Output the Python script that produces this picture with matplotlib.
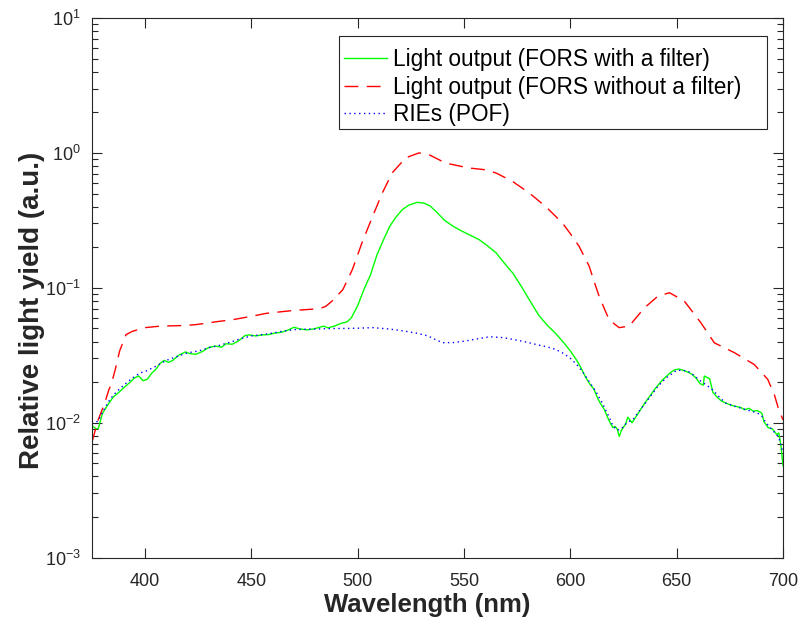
import matplotlib
matplotlib.use("Agg")
import matplotlib.pyplot as plt
from matplotlib.patches import Rectangle
from matplotlib.ticker import LogLocator, NullFormatter

plt.rcParams['font.family'] = ['Liberation Sans', 'DejaVu Sans']
plt.rcParams['mathtext.default'] = 'regular'
plt.rcParams['lines.scale_dashes'] = False

# Light output, FORS with a filter
green_wl = [375, 377, 378, 380, 383, 385, 388, 390, 393, 395, 397, 399, 401, 403, 405,
            407, 409, 411, 413, 416, 419, 421, 424, 427, 430, 433, 436, 438, 441, 444,
            447, 449, 452, 455, 458, 461, 464, 467, 470, 473, 476, 479, 482, 484, 486,
            489, 492, 495, 497, 500, 503, 506, 509, 512, 515, 518, 521, 524, 528, 531,
            534, 537, 541, 545, 549, 553, 557, 561, 565, 569, 573, 577, 581, 585, 589,
            593, 597, 600, 603, 605, 607, 609, 611, 613, 614, 616, 618, 619, 620, 621,
            622, 623, 624, 626, 627, 628, 629, 631, 633, 635, 637, 640, 643, 645, 647,
            649, 651, 653, 655, 657, 659, 661, 662.5, 663, 665.5, 667, 669, 671, 674, 677,
            680, 682, 684, 686, 688, 690, 691, 693, 695, 697, 698, 699, 700]
green_val = [0.0095, 0.0090, 0.0091, 0.0118, 0.0140, 0.0155, 0.0170, 0.0182, 0.0200, 0.0215,
             0.0222, 0.0205, 0.0210, 0.0232, 0.0248, 0.0275, 0.0290, 0.0280, 0.0290, 0.0318,
             0.0335, 0.0325, 0.0322, 0.0338, 0.0362, 0.0370, 0.0363, 0.0385, 0.0382, 0.0405,
             0.0443, 0.0448, 0.0440, 0.0448, 0.0450, 0.0462, 0.0468, 0.0485, 0.0510, 0.0495,
             0.0488, 0.0495, 0.0510, 0.0520, 0.0505, 0.0520, 0.0545, 0.0560, 0.0600, 0.0740,
             0.098, 0.125, 0.175, 0.225, 0.285, 0.335, 0.380, 0.410, 0.430, 0.425,
             0.405, 0.365, 0.315, 0.285, 0.263, 0.245, 0.228, 0.205, 0.182, 0.152,
             0.128, 0.102, 0.080, 0.063, 0.053, 0.046, 0.039, 0.034, 0.029, 0.0255,
             0.0220, 0.0195, 0.0178, 0.0150, 0.0140, 0.0125, 0.0105, 0.0098, 0.0092, 0.0094,
             0.0090, 0.0079, 0.0088, 0.0098, 0.0110, 0.0105, 0.0100, 0.0112, 0.0125, 0.0140,
             0.0155, 0.0180, 0.0205, 0.0220, 0.0235, 0.0247, 0.0250, 0.0245, 0.0238, 0.0230,
             0.0215, 0.0195, 0.0190, 0.0222, 0.0212, 0.0168, 0.0155, 0.0145, 0.0138, 0.0133,
             0.0130, 0.0125, 0.0128, 0.0122, 0.0123, 0.0118, 0.0102, 0.0092, 0.0090, 0.0082,
             0.0084, 0.0068, 0.0048]

# Light output, FORS without a filter
red_wl = [375, 378, 381, 383, 384, 386, 388, 391, 394, 400, 407, 419, 424, 435, 441,
          450, 457, 466, 471, 482, 485, 488, 493, 497.5, 502, 507, 511.6, 516.3, 522.6,
          528.8, 533.5, 541.4, 552, 560, 565, 572.7, 580.5, 588.4, 596.2, 600.9, 604.1,
          608.8, 611.9, 613.5, 618.2, 622.9, 627.6, 634.8, 641.1, 646.6, 653.6, 661.4,
          667.7, 677.1, 686.5, 692.8, 696, 698, 700]
red_val = [0.0072, 0.0106, 0.0140, 0.0177, 0.0190, 0.0250, 0.0340, 0.0450, 0.0476, 0.0507,
           0.0520, 0.0526, 0.0534, 0.0565, 0.0580, 0.0615, 0.0647, 0.0670, 0.0682, 0.0700,
           0.0730, 0.0800, 0.0970, 0.137, 0.216, 0.339, 0.507, 0.715, 0.920,
           1.000, 0.970, 0.840, 0.774, 0.750, 0.710, 0.616, 0.507, 0.400, 0.303, 0.241, 0.203,
           0.145, 0.103, 0.0866, 0.0580, 0.0507, 0.0520, 0.0710, 0.0866, 0.0920, 0.0797, 0.0550,
           0.0391, 0.0331, 0.0270, 0.0210, 0.0160, 0.0125, 0.0105]

# RIEs (POF)
blue_wl = [375, 378, 380, 383, 385, 388, 390, 393, 395, 398, 400, 405, 410, 415, 420, 425,
           430, 435, 440, 445, 450, 455, 460, 465, 470, 475, 480, 485, 490, 495, 500, 507,
           515, 522, 528, 533, 537, 540, 545, 550, 556, 562, 568, 573, 578, 584, 589, 593,
           597, 600, 603, 606, 609, 612, 615, 618, 620, 622, 624, 626, 628, 630, 632, 635,
           638, 641, 645, 650, 655, 658, 661, 664, 667, 670, 673, 677, 681, 685, 688, 690,
           692, 694, 696, 698, 700]
blue_val = [0.0098, 0.0103, 0.0120, 0.0145, 0.0160, 0.0178, 0.0190, 0.0208, 0.0220, 0.0235,
            0.0240, 0.0262, 0.0290, 0.0310, 0.0330, 0.0340, 0.0360, 0.0375, 0.0395, 0.0420,
            0.0440, 0.0450, 0.0462, 0.0478, 0.0490, 0.0493, 0.0495, 0.0498, 0.0500, 0.0500,
            0.0502, 0.0507, 0.0495, 0.0478, 0.0460, 0.0440, 0.0410, 0.0392, 0.0393, 0.0402,
            0.0418, 0.0434, 0.0428, 0.0415, 0.0400, 0.0380, 0.0365, 0.0350, 0.0325, 0.0300,
            0.0270, 0.0235, 0.0200, 0.0170, 0.0140, 0.0112, 0.0095, 0.0088, 0.0090, 0.0098,
            0.0103, 0.0108, 0.0120, 0.0138, 0.0160, 0.0185, 0.0215, 0.0245, 0.0243, 0.0225,
            0.0205, 0.0190, 0.0175, 0.0155, 0.0140, 0.0133, 0.0127, 0.0122, 0.0118, 0.0112,
            0.0100, 0.0092, 0.0085, 0.0078, 0.0060]

labels = ["Light output (FORS with a filter)",
          "Light output (FORS without a filter)",
          "RIEs (POF)"]

dark = '#262626'

fig = plt.figure(figsize=(7.99, 6.18), dpi=100)
ax = fig.add_axes([0.1151, 0.0976, 0.8649, 0.8733])

ax.plot(green_wl, green_val, color=(0, 1, 0), lw=1.0, label=labels[0])
ax.plot(red_wl, red_val, color=(1, 0, 0), lw=1.0, dashes=(10, 6), label=labels[1])
ax.plot(blue_wl, blue_val, color=(0, 0, 1), lw=1.0, dashes=(1, 2.5), label=labels[2])

ax.set_yscale('log')
ax.set_xlim(375, 700)
ax.set_ylim(1e-3, 10)
ax.set_xticks([400, 450, 500, 550, 600, 650, 700])
ax.yaxis.set_major_locator(LogLocator(base=10, numticks=10))
ax.yaxis.set_minor_locator(LogLocator(base=10, subs=range(2, 10), numticks=20))
ax.yaxis.set_minor_formatter(NullFormatter())

ax.tick_params(which='both', direction='in', top=True, right=True, colors=dark,
               labelsize=13, width=0.8)
ax.tick_params(which='major', length=7)
ax.tick_params(axis='x', which='major', pad=11)
ax.tick_params(axis='y', which='major', pad=8)
ax.tick_params(which='minor', length=4)
for s in ax.spines.values():
    s.set_color(dark)
    s.set_linewidth(0.8)

ax.set_xlabel("Wavelength (nm)", fontsize=18.5, fontweight='bold', color=dark)
ax.xaxis.set_label_coords(0.4855, -0.065)
ax.set_ylabel("Relative light yield (a.u.)", fontsize=20, fontweight='bold', color=dark)
ax.yaxis.set_label_coords(-0.068, 0.459)

# legend box drawn separately (MATLAB-style wide right margin)
ax.add_patch(Rectangle((0.3575, 0.794), 0.6194, 0.172, transform=ax.transAxes,
                       facecolor='white', edgecolor=dark, linewidth=0.8, zorder=4))
leg = ax.legend(loc='upper left', bbox_to_anchor=(0.3575, 0.9524), borderaxespad=0,
                fontsize=16.3, frameon=False, handlelength=1.9,
                handletextpad=0.28, labelspacing=0.2, borderpad=0.2)
leg.set_zorder(5)

fig.savefig("out.png", dpi=100)
